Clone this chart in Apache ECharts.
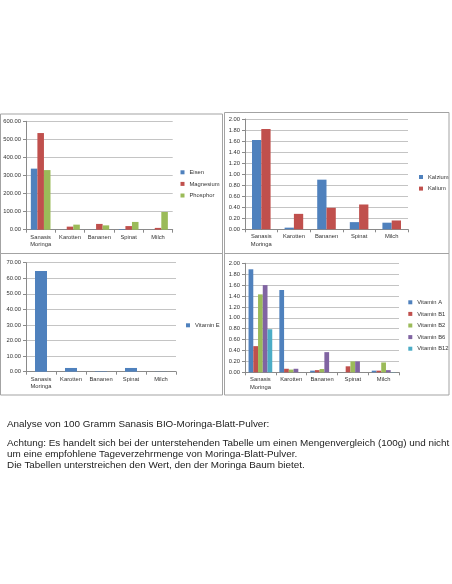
<!DOCTYPE html>
<html><head><meta charset="utf-8">
<script src="https://cdn.jsdelivr.net/npm/echarts@6/dist/echarts.min.js"></script>
<style>
html,body{margin:0;padding:0;background:#fff;overflow:hidden;}
#c{position:absolute;left:0;top:0;width:452px;height:584px;}
.t{position:absolute;left:7px;font-family:'Liberation Sans',Arial,sans-serif;font-size:9.9px;line-height:11px;color:#222;white-space:nowrap;}
</style></head>
<body>
<div id="c"></div>
<div class="t" style="top:417.5px">Analyse von 100 Gramm Sanasis BIO-Moringa-Blatt-Pulver:</div>
<div class="t" style="top:436.8px">Achtung: Es handelt sich bei der unterstehenden Tabelle um einen Mengenvergleich (100g) und nicht<br>um eine empfohlene Tageverzehrmenge von Moringa-Blatt-Pulver.<br>Die Tabellen unterstreichen den Wert, den der Moringa Baum bietet.</div>
<script>
const categories = ['Sanasis Moringa','Karotten','Bananen','Spinat','Milch'];
// Chart 1: minerals (mg)
const eisen = [338, 0.3, 0.4, 3, 0.1];
const magnesium = [535, 17, 32, 20, 10];
const phosphor = [330, 28, 24, 43, 98];
// Chart 2
const kalzium = [1.62, 0.03, 0.90, 0.13, 0.12];
const kalium = [1.82, 0.28, 0.39, 0.45, 0.16];
// Chart 3
const vitaminE = [64.7, 2.4, 0.3, 2.4, 0.1];
// Chart 4
const vitaminA = [1.89, 1.51, 0.03, 0, 0.03];
const vitaminB1 = [0.48, 0.065, 0.04, 0.11, 0.03];
const vitaminB2 = [1.43, 0.05, 0.06, 0.20, 0.18];
const vitaminB6 = [1.60, 0.065, 0.37, 0.20, 0.04];
const vitaminB12 = [0.79, 0, 0, 0, 0.004];
const yTicks = [{max:600, step:100},{max:2, step:0.2},{max:70, step:10},{max:2, step:0.2}];

const COL = {blue:'#4F81BD', red:'#C0504D', green:'#9BBB59', purple:'#8064A2', cyan:'#4BACC6'};
const FONT = 'Liberation Sans';
const txt = '#333';
const grids = [
  {left:26, top:121.3, width:146.7, height:108.4},
  {left:245, top:119, width:163, height:110.3},
  {left:26, top:262.7, width:150, height:109},
  {left:245, top:263.3, width:154, height:109}
];
const xAxes = grids.map((g,i)=>({
  type:'category', gridIndex:i, data:categories,
  axisLine:{show:true, lineStyle:{color:'#8a8a8a', width:1}},
  axisTick:{show:true, length:3, lineStyle:{color:'#8a8a8a'}},
  axisLabel:{fontSize:5.8, fontFamily:FONT, color:txt, margin:3.5, lineHeight:7.7,
    interval:0, formatter:v=>v.replace(' ','\n')}
}));
const yAxes = yTicks.map((t,i)=>({
  type:'value', gridIndex:i, min:0, max:t.max, interval:t.step,
  axisLine:{show:true, lineStyle:{color:'#8a8a8a', width:1}},
  axisTick:{show:true, length:3, lineStyle:{color:'#8a8a8a'}},
  splitLine:{show:true, lineStyle:{color:'#c4c4c4', width:1}},
  axisLabel:{fontSize:5.8, fontFamily:FONT, color:txt, margin:5, formatter:v=>v.toFixed(2)}
}));
function bar(name, data, color, idx, gap){
  return {name, type:'bar', data, xAxisIndex:idx, yAxisIndex:idx, barGap:'0%',
    barCategoryGap:gap, itemStyle:{color}, emphasis:{disabled:true}, animation:false};
}
const series = [
  bar('Eisen', eisen, COL.blue, 0, '33%'),
  bar('Magnesium', magnesium, COL.red, 0, '33%'),
  bar('Phosphor', phosphor, COL.green, 0, '33%'),
  bar('Kalzium', kalzium, COL.blue, 1, '43%'),
  bar('Kalium', kalium, COL.red, 1, '43%'),
  bar('Vitamin E', vitaminE, COL.blue, 2, '60%'),
  bar('Vitamin A', vitaminA, COL.blue, 3, '23%'),
  bar('Vitamin B1', vitaminB1, COL.red, 3, '23%'),
  bar('Vitamin B2', vitaminB2, COL.green, 3, '23%'),
  bar('Vitamin B6', vitaminB6, COL.purple, 3, '23%'),
  bar('Vitamin B12', vitaminB12, COL.cyan, 3, '23%')
];
function leg(data, left, top){
  return {data, left, top, orient:'vertical', icon:'rect', itemWidth:4, itemHeight:4,
    itemGap:4.6, padding:0, selectedMode:false,
    textStyle:{fontSize:5.8, fontFamily:FONT, color:txt, lineHeight:7}};
}
const legends = [
  leg(['Eisen','Magnesium','Phosphor'], 180.5, 168.8),
  leg(['Kalzium','Kalium'], 419, 173.5),
  leg(['Vitamin E'], 186, 321.8),
  leg(['Vitamin A','Vitamin B1','Vitamin B2','Vitamin B6','Vitamin B12'], 408.3, 298.8)
];
const border = {stroke:'#a3a3a3', fill:'none', lineWidth:1};
const graphic = [
  {type:'rect', shape:{x:0.5, y:114, width:222, height:139.5}, style:border, silent:true},
  {type:'rect', shape:{x:224.5, y:112.5, width:224.5, height:141}, style:border, silent:true},
  {type:'rect', shape:{x:0.5, y:253.5, width:222, height:141.5}, style:border, silent:true},
  {type:'rect', shape:{x:224.5, y:253.5, width:224.5, height:141.5}, style:border, silent:true}
];
const chart = echarts.init(document.getElementById('c'), null, {renderer:'canvas'});
chart.setOption({
  animation:false,
  backgroundColor:'#fff',
  grid:grids, xAxis:xAxes, yAxis:yAxes, series, legend:legends, graphic
});
</script>
</body></html>
